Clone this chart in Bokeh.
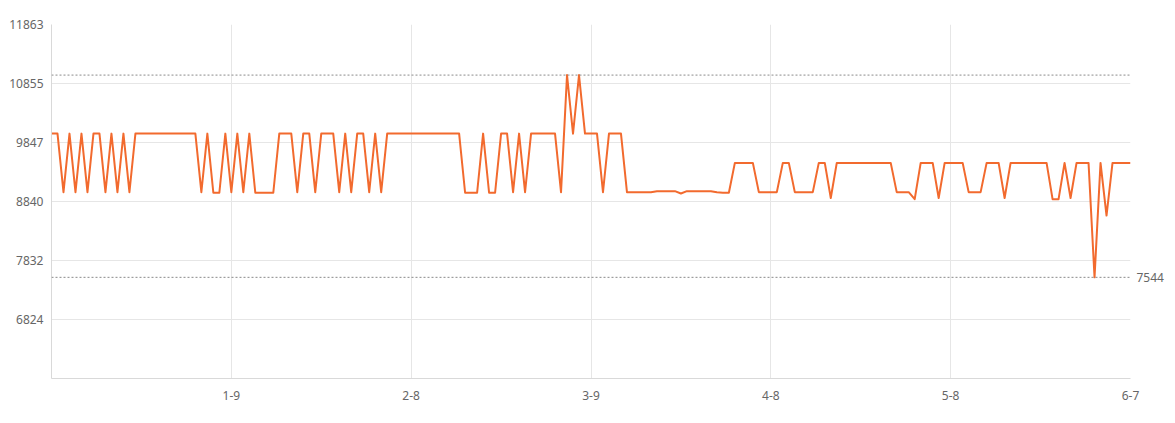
from bokeh.plotting import figure
from bokeh.models import Range1d, FixedTicker, Span, LinearAxis, ColumnDataSource
from bokeh.embed import file_html
from bokeh.resources import INLINE
import pandas as pd

# ---- data ----
start_date = "2023-12-10"
end_date = "2024-06-07"
prices = [
    9999, 9999, 8999, 9999, 8999, 9999, 8999, 9999, 9999, 8999,
    9999, 8999, 9999, 8999, 9999, 9999, 9999, 9999, 9999, 9999,
    9999, 9999, 9999, 9999, 9999, 8999, 9999, 8989, 8989, 9999,
    8999, 9999, 8999, 9999, 8989, 8989, 8989, 8989, 9999, 9999,
    9999, 8999, 9999, 9999, 8999, 9999, 9999, 9999, 8999, 9999,
    8999, 9999, 9999, 8999, 9999, 8999, 9999, 9999, 9999, 9999,
    9999, 9999, 9999, 9999, 9999, 9999, 9999, 9999, 9999, 8989,
    8989, 8989, 9999, 8989, 8989, 9999, 9999, 8999, 9999, 8999,
    9999, 9999, 9999, 9999, 9999, 8999, 10999, 9999, 10999, 9999,
    9999, 9999, 8999, 9999, 9999, 9999, 8999, 8999, 8999, 8999,
    8999, 9016, 9016, 9016, 9016, 8976, 9016, 9016, 9016, 9016,
    9016, 8999, 8989, 8989, 9499, 9499, 9499, 9499, 8999, 8999,
    8999, 8999, 9499, 9499, 8999, 8999, 8999, 8999, 9499, 9499,
    8899, 9499, 9499, 9499, 9499, 9499, 9499, 9499, 9499, 9499,
    9499, 8999, 8999, 8999, 8880, 9499, 9499, 9499, 8899, 9499,
    9499, 9499, 9499, 8999, 8999, 8999, 9499, 9499, 9499, 8899,
    9499, 9499, 9499, 9499, 9499, 9499, 9499, 8880, 8880, 9499,
    8899, 9499, 9499, 9499, 7544, 9499, 8599, 9499, 9499, 9499,
    9499,
]
y_ticks = [6824, 7832, 8840, 9847, 10855, 11863]
y_min = 5816
y_max = 11863
x_tick_index = [30, 60, 90, 120, 150, 180]
mark_max = 10999
mark_min = 7544

dates = pd.date_range(start_date, end_date, freq="D")
date_labels = [f"{d.month}-{d.day}" for d in dates]
xs = list(range(len(prices)))
src = ColumnDataSource(dict(x=xs, y=prices, date=date_labels[:len(prices)]))

FONT = "Noto Sans"
TXT = "#666666"
GRID = "#e6e6e6"
AXIS = "#d9d9d9"

p = figure(width=1170, height=418, output_backend="svg", toolbar_location=None,
           x_range=Range1d(0, len(prices) - 1), y_range=Range1d(y_min, y_max),
           min_border_left=51, min_border_right=40, min_border_top=24, min_border_bottom=40)
p.outline_line_color = None
p.background_fill_color = "white"
p.border_fill_color = "white"

xt = FixedTicker(ticks=x_tick_index)
yt = FixedTicker(ticks=y_ticks)
p.xaxis.ticker = xt
p.yaxis.ticker = yt
p.xgrid.ticker = xt
p.ygrid.ticker = yt
p.xaxis.major_label_overrides = {i: date_labels[i] for i in x_tick_index}
p.yaxis.major_label_overrides = {t: str(t) for t in y_ticks}

# right-hand axis carrying only the min mark-line value
raxis = LinearAxis(ticker=FixedTicker(ticks=[mark_min]),
                   major_label_overrides={mark_min: str(mark_min)})
p.add_layout(raxis, "right")

for ax in (p.xaxis[0], p.yaxis[0], raxis):
    ax.major_tick_line_color = None
    ax.minor_tick_line_color = None
    ax.major_tick_out = 0
    ax.major_tick_in = 0
    ax.major_label_text_font = FONT
    ax.major_label_text_font_size = "12px"
    ax.major_label_text_color = TXT
p.xaxis[0].axis_line_color = AXIS
p.yaxis[0].axis_line_color = AXIS
raxis.axis_line_color = None
p.yaxis[0].major_label_standoff = 8
raxis.major_label_standoff = 6
p.xaxis[0].major_label_standoff = 12

p.xgrid.grid_line_color = GRID
p.ygrid.grid_line_color = GRID

p.line("x", "y", source=src, line_color="#f26a2e", line_width=2, line_join="round")

for v in (mark_max, mark_min):
    p.add_layout(Span(location=v, dimension="width", line_color="#8a8a8a",
                      line_width=1, line_dash="2 2"))

open("out.html", "w").write(file_html(p, INLINE))
